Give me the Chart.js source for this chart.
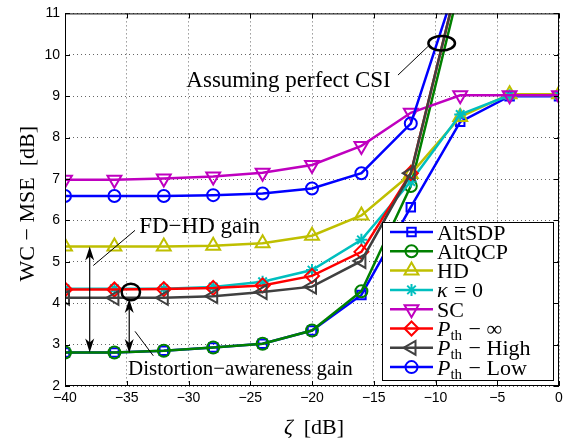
<!DOCTYPE html>
<html>
<head>
<meta charset="utf-8">
<title>WC-MSE vs zeta</title>
<script src="https://cdn.jsdelivr.net/npm/chart.js@4.4.0/dist/chart.umd.min.js"></script>
<style>
    html, body { margin: 0; padding: 0; background: #fff; }
    #container { width: 570px; height: 442px; }
</style>
</head>
<body>
<div id="container"><canvas id="vis" width="570" height="442"></canvas></div>
<script>
// x positions of the markers (zeta in dB)
const zeta = [-40, -36, -32, -28, -24, -20, -16, -12, -8, -4, 0];

// WC-MSE [dB] per method (null = off the plot)
const altSDP = [2.81, 2.81, 2.85, 2.93, 3.02, 3.34, 4.20, 6.32, 8.38, 9.00, 9.00];
const altQCP = [2.81, 2.81, 2.85, 2.93, 3.02, 3.34, 4.29, 6.83, 11.7, null, null];
const hd     = [5.37, 5.37, 5.37, 5.39, 5.45, 5.63, 6.12, 7.12, 8.50, 9.05, 9.05];
const kappa0 = [4.35, 4.35, 4.35, 4.39, 4.52, 4.80, 5.53, 6.94, 8.56, 9.02, 9.02];
const sc     = [6.98, 6.98, 7.01, 7.06, 7.15, 7.34, 7.80, 8.60, 9.02, 9.02, 9.02];
const pInf   = [4.33, 4.33, 4.34, 4.37, 4.43, 4.66, 5.24, 7.14, 12.0, null, null];
const pHigh  = [4.13, 4.13, 4.13, 4.17, 4.27, 4.40, 5.02, 7.14, 12.0, null, null];
const pLow   = [6.59, 6.59, 6.59, 6.61, 6.65, 6.77, 7.14, 8.34, 12.0, null, null];

const xTickValues = [-40, -35, -30, -25, -20, -15, -10, -5, 0];
const yTickValues = [2, 3, 4, 5, 6, 7, 8, 9, 10, 11];

const series = [altSDP, altQCP, hd, kappa0, sc, pInf, pHigh, pLow];

// legend text: [main, subscript, rest]; italic first part where math
const legendText = [
    ['AltSDP'], ['AltQCP'], ['HD'], ['κ', '', ' = 0'], ['SC'],
    ['P', 'th', ' − ∞'], ['P', 'th', ' − High'], ['P', 'th', ' − Low']
];

const styles = [
    { color: '#0000FF', pointStyle: 'rect',     radius: 6, rotation: 0 },
    { color: '#008000', pointStyle: 'circle',   radius: 6, rotation: 0 },
    { color: '#BFBF00', pointStyle: 'triangle', radius: 8, rotation: 0 },
    { color: '#00BFBF', pointStyle: 'star',     radius: 6, rotation: 0 },
    { color: '#BF00BF', pointStyle: 'triangle', radius: 8, rotation: 180 },
    { color: '#FF0000', pointStyle: 'rectRot',  radius: 7, rotation: 0 },
    { color: '#404040', pointStyle: 'triangle', radius: 8, rotation: -90 },
    { color: '#0000FF', pointStyle: 'circle',   radius: 6, rotation: 0 }
];

const SERIF = '"Liberation Serif", "Times New Roman", serif';
const SANS = '"Liberation Sans", Arial, sans-serif';

const fmt = v => v < 0 ? '\u2212' + (-v) : String(v);

const datasets = series.map((arr, i) => ({
    label: legendText[i].join(''),
    data: zeta.map((x, j) => ({ x, y: arr[j] })),
    borderColor: styles[i].color,
    backgroundColor: styles[i].color,
    borderWidth: 2.5,
    pointStyle: styles[i].pointStyle,
    pointRadius: styles[i].radius,
    pointRotation: styles[i].rotation,
    pointBorderWidth: 2,
    pointBorderColor: styles[i].color,
    pointBackgroundColor: 'rgba(0,0,0,0)',
    tension: 0,
    order: series.length - 1 - i
}));

function drawMarker(ctx, st, x, y) {
    ctx.save();
    ctx.strokeStyle = st.color;
    ctx.fillStyle = 'rgba(0,0,0,0)';
    ctx.lineWidth = 2;
    Chart.helpers.drawPoint(ctx, { pointStyle: st.pointStyle, radius: st.radius, rotation: st.rotation, borderWidth: 2 }, x, y);
    ctx.restore();
}

function arrowHead(ctx, x, y, dir) {
    // dir -1: points up, +1: points down
    const L = 14, W = 4.5, notch = 4;
    ctx.beginPath();
    ctx.moveTo(x, y);
    ctx.lineTo(x - W, y - dir * L);
    ctx.lineTo(x, y - dir * (L - notch));
    ctx.lineTo(x + W, y - dir * L);
    ctx.closePath();
    ctx.fill();
}

function doubleArrow(ctx, x, y1, y2) {
    ctx.beginPath();
    ctx.moveTo(x, y1 + 6);
    ctx.lineTo(x, y2 - 6);
    ctx.stroke();
    arrowHead(ctx, x, y1, -1);
    arrowHead(ctx, x, y2, 1);
}

const decor = {
    id: 'decor',
    afterDatasetsDraw(chart) {
        const { ctx, chartArea: a, scales: { x: xs, y: ys } } = chart;
        const X = v => xs.getPixelForValue(v);
        const Y = v => ys.getPixelForValue(v);
        ctx.save();

        // axes box and inward ticks
        ctx.strokeStyle = '#000';
        ctx.lineWidth = 1;
        ctx.strokeRect(a.left + 0.5, a.top + 0.5, a.width - 1, a.height - 1);
        ctx.beginPath();
        xTickValues.forEach(v => {
            const px = Math.round(X(v)) + 0.5;
            ctx.moveTo(px, a.bottom); ctx.lineTo(px, a.bottom - 5);
            ctx.moveTo(px, a.top); ctx.lineTo(px, a.top + 5);
        });
        yTickValues.forEach(v => {
            const py = Math.round(Y(v)) + 0.5;
            ctx.moveTo(a.left, py); ctx.lineTo(a.left + 5, py);
            ctx.moveTo(a.right, py); ctx.lineTo(a.right - 5, py);
        });
        ctx.stroke();

        // annotations
        ctx.fillStyle = '#000';
        ctx.strokeStyle = '#000';
        ctx.textAlign = 'center';
        ctx.textBaseline = 'alphabetic';
        ctx.font = '23px ' + SERIF;
        ctx.fillText('Assuming perfect CSI', X(-21.9), Y(9.23));
        ctx.fillText('FD\u2212HD gain', X(-29.1), Y(5.685));
        ctx.font = '21px ' + SERIF;
        ctx.fillText('Distortion\u2212awareness gain', X(-25.8), Y(2.26));

        ctx.lineWidth = 1;
        ctx.beginPath();
        ctx.moveTo(X(-13.04), Y(9.51)); ctx.lineTo(X(-10.61), Y(10.2));
        ctx.moveTo(X(-37.71), Y(4.91)); ctx.lineTo(X(-34.33), Y(5.76));
        ctx.moveTo(X(-34.33), Y(3.32)); ctx.lineTo(X(-32.85), Y(2.73));
        ctx.stroke();

        ctx.lineWidth = 2.5;
        ctx.beginPath();
        ctx.ellipse(X(-9.5), Y(10.28), 13.3, 7.2, 0, 0, Math.PI * 2);
        ctx.stroke();
        ctx.beginPath();
        ctx.ellipse(X(-34.67), Y(4.27), 9.2, 8.3, 0, 0, Math.PI * 2);
        ctx.stroke();

        ctx.lineWidth = 1.2;
        doubleArrow(ctx, X(-38), Y(5.37), Y(2.81));
        doubleArrow(ctx, X(-34.8), Y(4.1), Y(2.8));

        // legend
        const lx = 382, ly = 222, lw = 171, lh = 158;
        ctx.fillStyle = '#fff';
        ctx.fillRect(lx, ly, lw, lh);
        ctx.lineWidth = 1;
        ctx.strokeStyle = '#000';
        ctx.strokeRect(lx + 0.5, ly + 0.5, lw, lh);
        ctx.textAlign = 'left';
        styles.forEach((st, i) => {
            const cy = 232 + i * 19.3;
            ctx.strokeStyle = st.color;
            ctx.lineWidth = 2.5;
            ctx.beginPath();
            ctx.moveTo(390, cy); ctx.lineTo(433, cy);
            ctx.stroke();
            drawMarker(ctx, st, 411.5, cy);
            const parts = legendText[i];
            let tx = 437;
            const base = cy + 7.5;
            ctx.fillStyle = '#000';
            if (parts.length === 1) {
                ctx.font = '22px ' + SERIF;
                ctx.fillText(parts[0], tx, base);
            } else {
                ctx.font = 'italic 22px ' + SERIF;
                ctx.fillText(parts[0], tx, base);
                tx += ctx.measureText(parts[0]).width;
                if (parts[1]) {
                    ctx.font = '15px ' + SERIF;
                    ctx.fillText(parts[1], tx, base + 4);
                    tx += ctx.measureText(parts[1]).width;
                }
                ctx.font = '22px ' + SERIF;
                ctx.fillText(parts[2], tx + 1, base);
            }
        });

        // axis titles
        ctx.fillStyle = '#000';
        ctx.textAlign = 'center';
        ctx.textBaseline = 'middle';
        ctx.font = '22px ' + SERIF;
        ctx.save();
        ctx.translate(28, (a.top + a.bottom) / 2 + 4);
        ctx.rotate(-Math.PI / 2);
        ctx.fillText('WC \u2212 MSE  [dB]', 0, 0);
        ctx.restore();

        ctx.textAlign = 'left';
        ctx.font = 'italic 22px ' + SERIF;
        const zw = ctx.measureText('ζ').width;
        ctx.font = '22px ' + SERIF;
        const rw = ctx.measureText('  [dB]').width;
        const sx = X(-20) + 2 - (zw + rw) / 2;
        ctx.font = 'italic 22px ' + SERIF;
        ctx.fillText('ζ', sx, 428);
        ctx.font = '22px ' + SERIF;
        ctx.fillText('  [dB]', sx + zw, 428);

        ctx.restore();
    }
};

new Chart(document.getElementById('vis'), {
    type: 'line',
    data: { datasets },
    options: {
        responsive: false,
        animation: false,
        events: [],
        layout: { padding: { left: 0, top: 5, right: 11, bottom: 0 } },
        plugins: { legend: { display: false }, tooltip: { enabled: false } },
        scales: {
            x: {
                type: 'linear', min: -40, max: 0,
                afterFit: s => { s.height = 56; },
                afterBuildTicks: s => { s.ticks = xTickValues.map(v => ({ value: v })); },
                ticks: { color: '#000', font: { family: SANS, size: 14 }, padding: 4, maxRotation: 0, autoSkip: false, callback: fmt },
                grid: { color: 'rgba(0,0,0,0.6)', lineWidth: 1, drawTicks: false },
                border: { display: false, dash: [1, 3] }
            },
            y: {
                type: 'linear', min: 2, max: 11,
                afterFit: s => { s.width = 65; },
                afterBuildTicks: s => { s.ticks = yTickValues.map(v => ({ value: v })); },
                ticks: { color: '#000', font: { family: SANS, size: 14 }, padding: 5, autoSkip: false, callback: fmt },
                grid: { color: 'rgba(0,0,0,0.6)', lineWidth: 1, drawTicks: false },
                border: { display: false, dash: [1, 3] }
            }
        }
    },
    plugins: [decor]
});
</script>
</body>
</html>
